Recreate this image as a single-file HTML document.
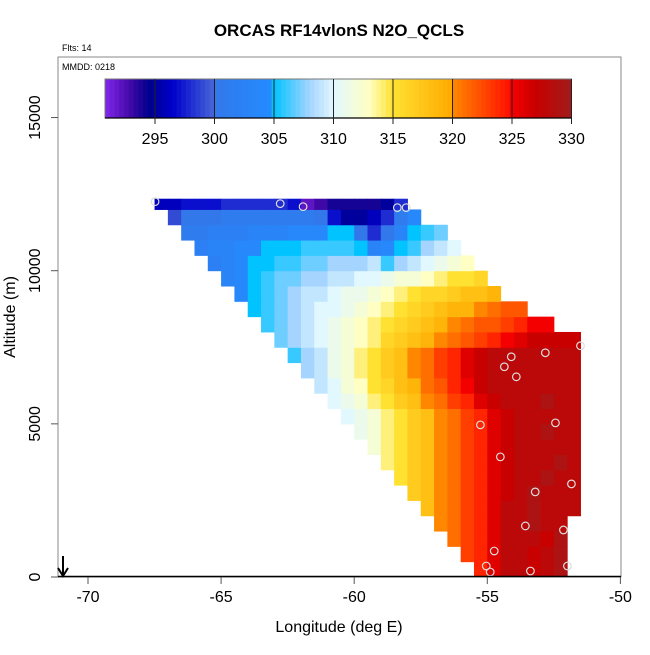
<!DOCTYPE html>
<html><head><meta charset="utf-8"><style>
body{margin:0;background:#fff;}
svg text{font-family:"Liberation Sans",sans-serif;}
</style></head><body>
<svg id="c" width="650" height="650" xmlns="http://www.w3.org/2000/svg">
<text x="339" y="36" text-anchor="middle" font-size="17" font-weight="bold">ORCAS RF14vlonS N2O_QCLS</text>
<text x="62" y="51" font-size="9">Flts: 14</text>
<g id="cells"></g>
<g id="pts"></g>
<rect x="58" y="57" width="563" height="520" fill="none" stroke="#888" stroke-width="1"/>
<line x1="58" y1="576.5" x2="621" y2="576.5" stroke="#000" stroke-width="1.5"/>
<text x="62" y="70" font-size="9">MMDD: 0218</text>
<g id="cbar"></g>
<g id="axes"></g>
<text x="339" y="632" text-anchor="middle" font-size="16">Longitude (deg E)</text>
<text transform="translate(15,317) rotate(-90)" text-anchor="middle" font-size="16">Altitude (m)</text>
<g><line x1="63" y1="556" x2="63" y2="575" stroke="#000" stroke-width="2"/><path d="M58,568 L63,576 L68,568" fill="none" stroke="#000" stroke-width="2"/></g>
</svg>
<script>
const xTicks=[-70,-65,-60,-55,-50];
const yTicks=[0,5000,10000,15000];
const cbTicks=[295,300,305,310,315,320,325,330];
const rowAlt=[0,500,1000,1500,2000,2500,3000,3500,4000,4500,5000,5500,6000,6500,7000,7500,8000,8500,9000,9500,10000,10500,11000,11500,12000];
const rowStart=[-55.5,-56,-56.5,-57,-57.5,-58,-58.5,-59,-59.5,-60,-60.5,-61,-61.5,-62,-62.5,-63,-63.5,-64,-64.5,-65,-65.5,-66,-66.5,-67,-67.5];
const rowVals=[
[324,326,328,328,327,328,329],
[323,324,326,328,328,327,328,329],
[321,323,324,326,328,328,328,327,329],
[320,321,323,324,326,328,328,329,328,328],
[318,320,321,323,324,326,328,328,329,328,328,328],
[317,318,320,321,323,324,326,327,328,329,328,328,328],
[315,317,318,320,321,323,324,326,327,328,328,329,328,328],
[314,315,317,318,320,321,323,324,326,327,328,328,328,329,328],
[312,314,315,317,318,320,321,323,324,326,327,328,328,328,328,328],
[311,312,314,315,317,318,320,321,323,324,326,327,328,328,329,328,328],
[310,311,312,314,315,317,318,320,321,323,324,326,327,328,328,328,328,328],
[310,311,312,314,315,317,318,320,321,323,324,326,327,328,328,328,329,328,328],
[309,310,312,313,315,316,318,319,321,322,324,325,327,328,328,328,328,328,328,328],
[308,309,311,312,314,315,317,318,320,321,323,324,326,327,328,328,328,328,328,328,328],
[306,308,309,311,312,314,315,317,318,320,321,323,324,326,327,328,328,328,328,328,328,328],
[307,308,309,310,311,312,313,314,316,317,318,319,320,321,322,323,324,325,326,327,327,327,327],
[306,307,308,309,310,311,312,313,314,315,316,317,318,319,320,321,322,322,323,324,325,325],
[305,306,307,308,309,310,310,311,312,313,314,315,316,317,318,319,319,320,321,322,322],
[304,305,306,307,308,309,309,310,311,311,312,313,314,315,316,316,317,318,318,319],
[303,304,305,306,307,307,308,308,309,309,310,310,311,312,312,313,314,315,315,316],
[302,303,304,305,305,306,306,307,307,308,308,308,309,306,308,309,310,311,312,313],
[302,303,303,304,304,305,305,305,306,306,306,306,305,303,304,305,306,308,309,310],
[301,301,302,302,302,303,303,303,304,304,304,305,305,300,298,300,303,305,306,307],
[299,300,300,300,301,301,301,301,301,301,301,300,297,295,295,296,298,301,304],
[296,296,297,297,297,298,298,298,298,298,297,292,293,294,294,294,294,295,298]
];
const ptLon=[-67.48,-62.78,-61.92,-58.38,-58.05,-51.5,-52.82,-54.1,-54.36,-53.91,-55.26,-52.44,-54.51,-51.84,-53.2,-53.57,-52.14,-54.74,-55.04,-54.89,-51.99,-53.38];
const ptAlt=[12255,12190,12092,12059,12059,7549,7320,7190,6863,6536,4967,5033,3922,3039,2778,1667,1536,850,360,163,360,196];

const NS='http://www.w3.org/2000/svg';
const xs=v=>88+(v+70)*26.62;
const ys=v=>577-v*0.03063;
const cbx=v=>155+(v-295)*11.9;
const stops=[[290.8,[130,40,235]],[292.8,[70,10,170]],[294.5,[0,0,140]],[296.5,[0,0,205]],[299.9,[70,100,215]],[300,[50,120,235]],[304.9,[35,140,255]],[305,[0,195,255]],[308,[165,212,255]],[310,[225,248,255]],[313,[255,255,195]],[315,[255,225,50]],[319.9,[255,170,0]],[320,[255,135,0]],[324.9,[255,15,0]],[325,[245,0,0]],[327,[200,0,0]],[330,[160,28,28]]];
function col(v){if(v<=stops[0][0])return 'rgb('+stops[0][1]+')';for(let i=1;i<stops.length;i++){if(v<=stops[i][0]){const a=stops[i-1],b=stops[i],t=(v-a[0])/(b[0]-a[0]);return 'rgb('+a[1].map((c,k)=>Math.round(c+(b[1][k]-c)*t)).join(',')+')';}}return 'rgb('+stops[stops.length-1][1]+')';}
function mk(tag,at,parent){const e=document.createElementNS(NS,tag);for(const k in at)e.setAttribute(k,at[k]);parent.appendChild(e);return e;}
const cells=document.getElementById('cells');
rowVals.forEach((row,k)=>{const a0=rowAlt[k],a1=Math.min(a0+500,12350);row.forEach((v,j)=>{const l0=rowStart[k]+0.5*j,l1=Math.min(l0+0.5,-51.3);
const r=mk('rect',{x:xs(l0),y:ys(a1),width:xs(l1)-xs(l0)+0.5,height:ys(a0)-ys(a1)+0.5,fill:col(v)},cells);

});});
const pts=document.getElementById('pts');
ptLon.forEach((lo,i)=>{const c=mk('circle',{cx:xs(lo),cy:ys(ptAlt[i]),r:3.8,fill:'none',stroke:'#ddd','stroke-width':1.2},pts);

});
const cb=document.getElementById('cbar');
for(let v=290.8;v<330;v+=0.4){const r=mk('rect',{x:cbx(v),y:79,width:Math.min(cbx(v+0.4),cbx(330))-cbx(v)+0.4,height:39,fill:col(v+0.2)},cb);

}
mk('rect',{x:cbx(290.8),y:79,width:cbx(330)-cbx(290.8),height:39,fill:'none',stroke:'#777'},cb);
mk('line',{x1:cbx(290.8),y1:118,x2:cbx(330),y2:118,stroke:'#000','stroke-width':1.2},cb);
cbTicks.forEach(t=>{const x=cbx(t);mk('line',{x1:x,y1:79,x2:x,y2:124,stroke:'#222','stroke-width':1},cb);
const tx=mk('text',{x:x,y:144,'text-anchor':'middle','font-size':16},cb);tx.textContent=t;

});
const ax=document.getElementById('axes');
xTicks.forEach(t=>{const x=xs(t);mk('line',{x1:x,y1:577,x2:x,y2:584,stroke:'#555'},ax);
const tx=mk('text',{x:x,y:602,'text-anchor':'middle','font-size':16},ax);tx.textContent=t;

});
yTicks.forEach(t=>{const y=ys(t);mk('line',{x1:51,y1:y,x2:58,y2:y,stroke:'#555'},ax);
const tx=mk('text',{transform:'translate(40,'+y+') rotate(-90)','text-anchor':'middle','font-size':16},ax);tx.textContent=t;

});
</script>
</body></html>
